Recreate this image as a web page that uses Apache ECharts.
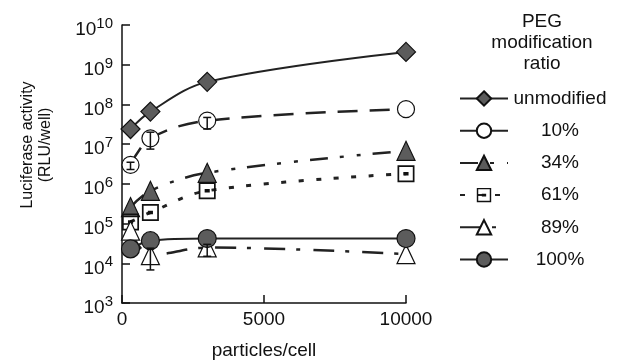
<!DOCTYPE html>
<html>
<head>
<meta charset="utf-8">
<script src="https://cdn.jsdelivr.net/npm/echarts@6/dist/echarts.min.js"></script>
<style>
  html, body { margin: 0; padding: 0; background: #fff; }
  #chart { width: 622px; height: 364px; }
</style>
</head>
<body>
<div id="chart"></div>
<script>
(function () {

	// particles/cell
	var xVals = [300, 1000, 3000, 10000];

	// luciferase activity (RLU/well) per PEG modification ratio
	var unmodified = [2.4e7, 6.6e7, 3.7e8, 2.1e9];
	var peg10 = [3.0e6, 1.4e7, 3.9e7, 7.6e7];
	var peg34 = [2.6e5, 6.7e5, 1.9e6, 6.8e6];
	var peg61 = [1.1e5, 1.9e5, 6.7e5, 1.8e6];
	var peg89 = [6.6e4, 1.6e4, 2.5e4, 1.7e4];
	var peg100 = [2.3e4, 3.7e4, 4.2e4, 4.2e4];

	// error bars that are visible in the figure
	var err10X = [300, 1000, 3000];
	var err10Lo = [2.3e6, 7.5e6, 2.4e7];
	var err10Hi = [3.5e6, 2.0e7, 4.7e7];
	var err89X = [1000, 3000];
	var err89Lo = [6.8e3, 1.5e4];
	var err89Hi = [2.4e4, 3.0e4];

	var legendNames = ['unmodified', '10%', '34%', '61%', '89%', '100%'];

	var FONT = '"Liberation Sans", Arial, sans-serif';
	var squareSym = 'path://M0,0H20V20H0Z M2,2V18H18V2Z M7,8H13V12H7Z';

	function pairs(ys) {
		return xVals.map(function (x, i) { return [x, ys[i]]; });
	}

	function errData(xs, lo, hi) {
		return xs.map(function (x, i) { return [x, lo[i], hi[i]]; });
	}

	function lineSeries(name, ys, symbol, size, fill, dash, width) {
		return {
			name: name,
			type: 'line',
			data: pairs(ys),
			smooth: 0.35,
			symbol: symbol,
			symbolSize: size,
			itemStyle: { color: fill, borderColor: '#111', borderWidth: symbol === squareSym ? 0 : 1.2 },
			lineStyle: { color: '#222', width: width, type: dash },
			emphasis: { disabled: true }
		};
	}

	function errSeries(data) {
		return {
			type: 'custom',
			data: data,
			z: 5,
			encode: { x: 0, y: [1, 2] },
			renderItem: function (params, api) {
				var x = api.value(0);
				var lo = api.coord([x, api.value(1)]);
				var hi = api.coord([x, api.value(2)]);
				var w = 4;
				var st = { stroke: '#111', lineWidth: 1.5 };
				return {
					type: 'group',
					children: [
						{ type: 'line', shape: { x1: lo[0], y1: lo[1], x2: hi[0], y2: hi[1] }, style: st },
						{ type: 'line', shape: { x1: lo[0] - w, y1: lo[1], x2: lo[0] + w, y2: lo[1] }, style: st },
						{ type: 'line', shape: { x1: hi[0] - w, y1: hi[1], x2: hi[0] + w, y2: hi[1] }, style: st }
					]
				};
			}
		};
	}

	var chart = echarts.init(document.getElementById('chart'));

	chart.setOption({
		animation: false,
		backgroundColor: '#fff',
		textStyle: { fontFamily: FONT, color: '#111' },
		grid: { left: 122, right: 216, top: 25, bottom: 61, outerBoundsMode: 'none' },
		graphic: [
			{
				type: 'text',
				x: 542, y: 11,
				style: {
					text: 'PEG\nmodification\nratio',
					textAlign: 'center',
					fontSize: 19, lineHeight: 21,
					fontFamily: FONT, fill: '#111'
				}
			},
			{
				type: 'text',
				x: 37, y: 145,
				rotation: Math.PI / 2,
				style: {
					text: 'Luciferase activity\n(RLU/well)',
					textAlign: 'center', textVerticalAlign: 'middle',
					fontSize: 16, lineHeight: 18,
					fontFamily: FONT, fill: '#111'
				}
			}
		],
		legend: {
			data: legendNames,
			orient: 'vertical',
			left: 454, top: 84,
			itemWidth: 48, itemHeight: 18,
			itemGap: 13.2,
			selectedMode: false,
			formatter: function (name) { return '{t|' + name + '}'; },
			textStyle: {
				rich: {
					t: { width: 94, align: 'center', fontSize: 19, lineHeight: 18, fontFamily: FONT, color: '#111' }
				}
			}
		},
		xAxis: {
			type: 'value',
			min: 0, max: 10000, interval: 5000,
			name: 'particles/cell',
			nameLocation: 'middle',
			nameGap: 38,
			nameTextStyle: { fontSize: 19, color: '#111' },
			axisLine: { lineStyle: { color: '#111', width: 1.5 } },
			axisTick: { inside: true, length: 8, lineStyle: { color: '#111', width: 1.5 } },
			axisLabel: {
				fontSize: 19, color: '#111', margin: 7,
				formatter: function (v) { return String(v); }
			},
			splitLine: { show: false }
		},
		yAxis: {
			type: 'log',
			logBase: 10,
			min: 1e3, max: 1e10,
			splitNumber: 7,
			axisLine: { show: true, lineStyle: { color: '#111', width: 1.5 } },
			axisTick: { show: true, inside: true, length: 8, lineStyle: { color: '#111', width: 1.5 } },
			splitLine: { show: false },
			axisLabel: {
				margin: 9,
				formatter: function (v) {
					return '{b|10}{s|' + Math.round(Math.log10(v)) + '}';
				},
				rich: {
					b: { fontSize: 19, lineHeight: 20, color: '#111', fontFamily: FONT, padding: [10, 0, 0, 0] },
					s: { fontSize: 15, lineHeight: 16, color: '#111', fontFamily: FONT, padding: [0, 0, 2, 0] }
				}
			}
		},
		series: [
			lineSeries('unmodified', unmodified, 'diamond', [19, 19], '#5c5c5c', 'solid', 2),
			lineSeries('10%', peg10, 'circle', 17, '#fff', [20, 12], 2.5),
			lineSeries('34%', peg34, 'triangle', [18, 19], '#5c5c5c', [18, 12, 4, 13, 4, 12], 2.5),
			lineSeries('61%', peg61, squareSym, 17, '#111', [5, 12.5], 3),
			lineSeries('89%', peg89, 'triangle', [18, 19], '#fff', [21, 11, 4, 13], 2.5),
			lineSeries('100%', peg100, 'circle', 18, '#5c5c5c', 'solid', 2),
			errSeries(errData(err10X, err10Lo, err10Hi)),
			errSeries(errData(err89X, err89Lo, err89Hi))
		]
	});
})();
</script>
</body>
</html>
